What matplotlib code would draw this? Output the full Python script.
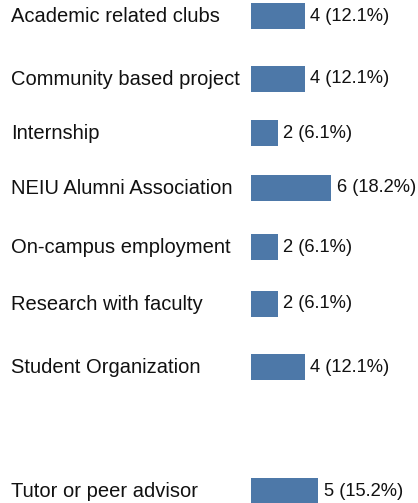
import matplotlib
matplotlib.use("Agg")
import matplotlib.pyplot as plt
from matplotlib import transforms

categories = ["Academic related clubs", "Community based project", "Internship",
              "NEIU Alumni Association", "On-campus employment", "Research with faculty",
              "Student Organization", "Tutor or peer advisor"]
counts = [4, 4, 2, 6, 2, 2, 4, 5]
percents = [12.1, 12.1, 6.1, 18.2, 6.1, 6.1, 12.1, 15.2]

# layout: row centres (pixels from top) as in the reference
row_pos = [16, 78.5, 133, 188, 247, 304, 367, 491]

W, H, DPI = 418, 503, 100
fig = plt.figure(figsize=(W / DPI, H / DPI), dpi=DPI)
plt.rcParams['font.family'] = ['Liberation Sans', 'DejaVu Sans']

left_px = 251
ax = fig.add_axes([left_px / W, 0, (W - left_px) / W, 1])
px_per_unit = 13.4
ax.set_xlim(0, (W - left_px) / px_per_unit)
ax.set_ylim(H, 0)
ax.axis('off')

color = '#4D78A8'
ax.barh(row_pos, counts, height=26, color=color, left=0)

lab_tr = transforms.blended_transform_factory(fig.transFigure, ax.transData)
for cat, y in zip(categories, row_pos):
    ax.text(11 / W, y + 0.5, cat, transform=lab_tr, ha='left', va='center',
            fontsize=14.5, color='#111111')

for c, p, y in zip(counts, percents, row_pos):
    ax.annotate(f"{c} ({p}%)", xy=(c, y), xytext=(4, 0), textcoords='offset points',
                ha='left', va='center', fontsize=13.2, color='#111111')

fig.savefig('out.png', dpi=DPI)
